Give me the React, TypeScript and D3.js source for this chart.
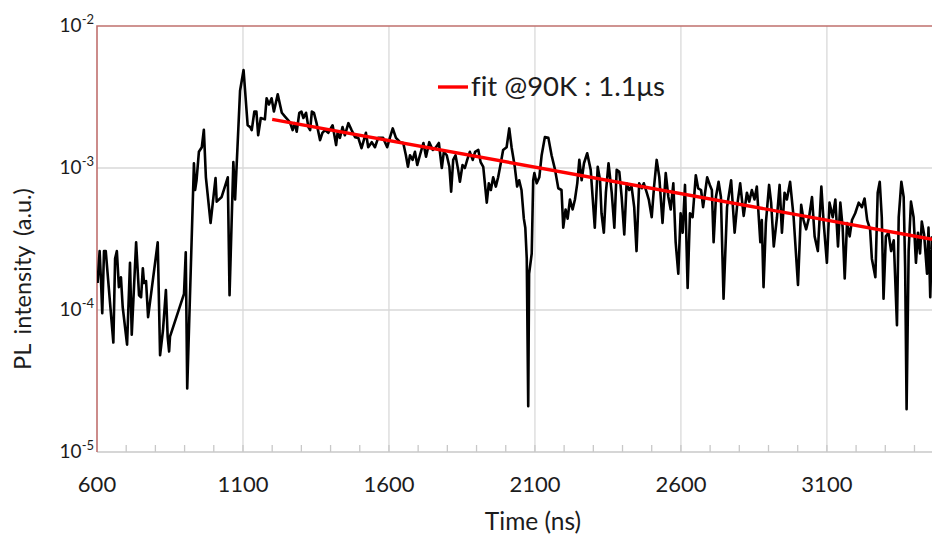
import React, { useEffect, useRef } from 'react';
import * as d3 from 'd3';

// measured PL decay trace (time in ns, intensity in a.u.)
const timeNs = [
  602, 609, 614, 618, 624, 630, 645, 656, 662, 668, 675, 682, 688, 703, 713, 719, 734, 744, 751, 757,
  761, 768, 775, 808, 816, 826, 836, 842, 847, 850, 898, 904, 909, 932, 936, 941, 949, 959, 966, 973,
  989, 1006, 1010, 1027, 1048, 1054, 1067, 1073, 1090, 1102, 1116, 1125, 1130, 1139, 1146, 1152, 1161, 1175, 1181, 1189,
  1198, 1206, 1219, 1233, 1244,
  1261, 1270, 1277, 1284, 1293, 1300, 1307, 1316, 1324, 1330, 1336, 1343, 1352, 1364, 1372, 1381, 1392, 1407, 1419, 1424,
  1432, 1441, 1449, 1461, 1472, 1484, 1495, 1506, 1512, 1521, 1529, 1541, 1552, 1563, 1580, 1594, 1603, 1613, 1624, 1638,
  1649, 1658, 1665, 1672, 1681, 1689, 1697, 1706, 1718, 1727, 1738, 1750, 1761, 1771, 1781, 1788, 1798, 1807, 1813, 1820,
  1828, 1837, 1843, 1852, 1860, 1868, 1877, 1887, 1895, 1906, 1914, 1923, 1935, 1942, 1949, 1957, 1966, 1974, 1983, 1991,
  2003, 2012,
  2020, 2031, 2039, 2046, 2054, 2062, 2067, 2072, 2077, 2080, 2089, 2094, 2098, 2106, 2115, 2123, 2134, 2146, 2157, 2169,
  2180, 2191, 2197, 2205, 2212, 2220, 2229, 2237, 2245, 2252, 2260, 2268, 2279, 2291, 2305, 2315, 2323, 2328, 2336, 2343,
  2352, 2363, 2372, 2380, 2389, 2397, 2406, 2414, 2423, 2431, 2440, 2448, 2457, 2466, 2473, 2483, 2490, 2500, 2508, 2517,
  2526, 2537, 2548, 2557, 2565, 2574, 2582, 2591, 2599, 2606, 2614, 2623, 2631, 2640, 2651, 2659, 2669, 2676, 2690, 2699,
  2706, 2712, 2720, 2729, 2737, 2746, 2758, 2772, 2784, 2792, 2803, 2815, 2826, 2834, 2843, 2852, 2860, 2872, 2877, 2883,
  2891, 2902, 2909, 2918, 2929, 2938, 2946, 2955, 2963, 2974, 2986, 3001, 3012, 3020, 3029, 3039, 3049, 3058, 3069, 3081,
  3089, 3100, 3109, 3120, 3129, 3138, 3146, 3154, 3161, 3169, 3178, 3186, 3197, 3209, 3220, 3229, 3238, 3248, 3254, 3266,
  3274, 3281, 3288, 3294, 3302, 3311, 3320, 3329, 3340, 3346, 3355, 3363, 3368, 3373, 3380, 3388, 3397, 3405, 3412, 3419,
  3425, 3433, 3443, 3448, 3454, 3460,
];

const intensity = [
  1.55e-4, 2.6e-4, 1.55e-4, 0.95e-4, 2.6e-4, 2.6e-4, 1.1e-4, 5.9e-5, 2.3e-4, 2.6e-4, 1.45e-4, 1.7e-4, 1.05e-4, 5.7e-5, 2.15e-4, 6.7e-5, 3e-4, 1.27e-4, 1.23e-4, 1.97e-4,
  1.55e-4, 1.6e-4, 8.9e-5, 3e-4, 4.8e-5, 7.2e-5, 1.38e-4, 6.5e-5, 5.1e-5, 6.5e-5, 1.3e-4, 2.55e-4, 2.8e-5, 1.08e-3, 7e-4, 8.2e-4, 1.3e-3, 1.4e-3, 1.86e-3, 8.6e-4,
  4.1e-4, 8.5e-4, 5.8e-4, 6.25e-4, 8.6e-4, 1.27e-4, 1.1e-3, 6e-4, 3.5e-3, 4.9e-3, 2e-3, 1.94e-3, 1.85e-3, 2.5e-3, 2.5e-3, 1.7e-3, 2.25e-3, 2.2e-3, 3.1e-3, 2.8e-3,
  3.1e-3, 2.5e-3, 3.3e-3, 2.45e-3, 2.3e-3,
  2.1e-3, 1.85e-3, 2.07e-3, 1.8e-3, 2.45e-3, 2.5e-3, 2.25e-3, 2.45e-3, 1.94e-3, 1.85e-3, 2.5e-3, 2.45e-3, 2.07e-3, 1.57e-3, 1.77e-3, 1.85e-3, 1.77e-3, 2e-3, 1.45e-3, 1.77e-3,
  1.63e-3, 1.94e-3, 1.7e-3, 2.07e-3, 1.85e-3, 1.65e-3, 1.63e-3, 1.38e-3, 1.52e-3, 1.77e-3, 1.4e-3, 1.52e-3, 1.4e-3, 1.63e-3, 1.63e-3, 1.4e-3, 1.63e-3, 1.9e-3, 1.63e-3, 1.52e-3,
  1.5e-3, 1.23e-3, 1.02e-3, 1.23e-3, 1.14e-3, 1.3e-3, 1.05e-3, 1.23e-3, 1.5e-3, 1.2e-3, 1.52e-3, 1.34e-3, 1.4e-3, 1.5e-3, 1e-3, 1.3e-3, 1.23e-3, 1.02e-3, 6.8e-4, 1.14e-3,
  1.23e-3, 9.7e-4, 8e-4, 1.05e-3, 1e-3, 1.14e-3, 1.3e-3, 1.14e-3, 1.3e-3, 1.34e-3, 1.1e-3, 1.02e-3, 5.7e-4, 7.8e-4, 7e-4, 8.6e-4, 7.4e-4, 8.6e-4, 1.08e-3, 1.34e-3,
  1.4e-3, 1.9e-3,
  1.4e-3, 1.02e-3, 7.4e-4, 8.2e-4, 7e-4, 4.4e-4, 3.8e-4, 2.3e-4, 2.1e-5, 1.8e-4, 2.5e-4, 8.2e-4, 9.2e-4, 7.8e-4, 8.6e-4, 1.23e-3, 1.65e-3, 1.63e-3, 1.23e-3, 9.7e-4,
  7.2e-4, 7e-4, 3.8e-4, 5.1e-4, 4.4e-4, 6e-4, 5.1e-4, 6e-4, 7.8e-4, 1.14e-3, 8.2e-4, 1.08e-3, 1.27e-3, 9.7e-4, 3.8e-4, 1.02e-3, 8.2e-4, 4.8e-4, 3.5e-4, 6.7e-4,
  1.08e-3, 6.7e-4, 3.8e-4, 9.7e-4, 9.4e-4, 6.25e-4, 3.4e-4, 7.8e-4, 7e-4, 7.4e-4, 5.3e-4, 2.6e-4, 7.8e-4, 7.2e-4, 7.8e-4, 6.7e-4, 6e-4, 4.5e-4, 7.4e-4, 1.14e-3,
  8.6e-4, 4.1e-4, 9.2e-4, 6.25e-4, 5.1e-4, 7.8e-4, 3e-4, 1.8e-4, 4.8e-4, 3.5e-4, 7.6e-4, 1.43e-4, 4.8e-4, 4.5e-4, 8.9e-4, 7.2e-4, 7e-4, 5.3e-4, 8.6e-4, 7.6e-4,
  7e-4, 3e-4, 6.25e-4, 8e-4, 6.25e-4, 1.2e-4, 5.3e-4, 8.2e-4, 3.5e-4, 5.3e-4, 7.8e-4, 4.6e-4, 6.7e-4, 5.8e-4, 7e-4, 6e-4, 7.4e-4, 3e-4, 4.3e-4, 1.45e-4,
  4.1e-4, 7.6e-4, 5.7e-4, 2.8e-4, 4.5e-4, 7.6e-4, 3.5e-4, 6.7e-4, 6e-4, 8e-4, 4.5e-4, 1.5e-4, 5.5e-4, 4.3e-4, 3.7e-4, 4.5e-4, 6.25e-4, 3.3e-4, 2.6e-4, 7.4e-4,
  4.1e-4, 2.15e-4, 5.7e-4, 4.5e-4, 6e-4, 2.8e-4, 5.7e-4, 3.8e-4, 1.67e-4, 4.1e-4, 3.3e-4, 4.3e-4, 4.8e-4, 5.7e-4, 5.3e-4, 6.1e-4, 4.3e-4, 3.7e-4, 2.3e-4, 1.7e-4,
  6.7e-4, 8e-4, 4.5e-4, 1.2e-4, 3.3e-4, 3.5e-4, 2.6e-4, 3.1e-4, 7.8e-5, 4.5e-4, 8e-4, 6.25e-4, 2e-4, 2e-5, 2.6e-4, 5.8e-4, 4.5e-4, 2.15e-4, 3.5e-4, 2.5e-4,
  4.2e-4, 3.4e-4, 1.8e-4, 3.8e-4, 1.23e-4, 3.3e-4,
];

// single-exponential fit, straight on the log axis
const fitTime = [1200, 3460];
const fitIntensity = [2.2e-3, 3.15e-4];

const xTickValues = [600, 1100, 1600, 2100, 2600, 3100];
const yTickExponents = [-2, -3, -4, -5];
const legendLabel = 'fit @90K : 1.1μs';

const FONT = "Lato, 'Open Sans', sans-serif";

const PLDecayChart = ({ width = 932, height = 538 }) => {
  const svgRef = useRef<SVGSVGElement>(null);

  useEffect(() => {
    const svg = d3.select(svgRef.current);
    svg.selectAll('*').remove();

    const margin = { top: 26, right: 0, bottom: 86, left: 97 };
    const x = d3.scaleLinear().domain([600, 3460]).range([margin.left, width - margin.right]);
    const y = d3.scaleLog().domain([1e-5, 1e-2]).range([height - margin.bottom, margin.top]);
    const [x0, x1] = x.range();
    const [yb, yt] = y.range();

    svg.append('defs').append('clipPath').attr('id', 'plot-clip')
      .append('rect').attr('x', x0).attr('y', yt).attr('width', x1 - x0).attr('height', yb - yt);

    // grid lines
    const grid = svg.append('g').attr('stroke', '#d9d9d9').attr('stroke-width', 1.3);
    grid.selectAll('line.v')
      .data(xTickValues.slice(1))
      .enter().append('line')
      .attr('x1', d => x(d)).attr('x2', d => x(d))
      .attr('y1', yt).attr('y2', yb);
    grid.selectAll('line.h')
      .data(yTickExponents.slice(1, -1))
      .enter().append('line')
      .attr('x1', x0).attr('x2', x1)
      .attr('y1', d => y(Math.pow(10, d))).attr('y2', d => y(Math.pow(10, d)));

    // bottom axis with inside minor ticks every 100 ns
    const bottom = svg.append('g').attr('stroke', '#c8c8c8').attr('stroke-width', 1.3);
    bottom.append('line').attr('x1', x0).attr('x2', x1).attr('y1', yb).attr('y2', yb);
    bottom.selectAll('line.tick')
      .data(d3.range(700, 3460, 100))
      .enter().append('line')
      .attr('x1', d => x(d)).attr('x2', d => x(d))
      .attr('y1', yb - 7).attr('y2', yb);

    // reddish frame (top + left)
    svg.append('path')
      .attr('d', `M${x0},${yb}V${yt}H${x1}`)
      .attr('fill', 'none')
      .attr('stroke', '#c0706e')
      .attr('stroke-width', 1.6);

    // x tick labels
    svg.append('g').selectAll('text')
      .data(xTickValues)
      .enter().append('text')
      .attr('x', d => x(d))
      .attr('y', 492)
      .attr('text-anchor', 'middle')
      .style('font-family', FONT)
      .style('font-size', '22px')
      .style('fill', '#1c1c1c')
      .text(d => d);

    // y tick labels 10^n
    const yLabels = svg.append('g').selectAll('text')
      .data(yTickExponents)
      .enter().append('text')
      .attr('x', 94)
      .attr('y', d => y(Math.pow(10, d)) + 6)
      .attr('text-anchor', 'end')
      .style('font-family', FONT)
      .style('font-size', '19px')
      .style('fill', '#1c1c1c');
    yLabels.append('tspan').text('10');
    yLabels.append('tspan')
      .attr('dy', -8)
      .style('font-size', '13px')
      .text(d => `-${-d}`);

    // axis titles
    svg.append('text')
      .attr('x', 533)
      .attr('y', 530)
      .attr('text-anchor', 'middle')
      .style('font-family', FONT)
      .style('font-size', '24.5px')
      .style('fill', '#1c1c1c')
      .text('Time (ns)');

    svg.append('text')
      .attr('transform', 'translate(31,279) rotate(-90)')
      .attr('text-anchor', 'middle')
      .style('font-family', FONT)
      .style('font-size', '23.5px')
      .style('word-spacing', '4px')
      .style('fill', '#1c1c1c')
      .text('PL intensity (a.u.)');

    const plot = svg.append('g').attr('clip-path', 'url(#plot-clip)');

    // data trace
    const line = d3.line<number>()
      .x((_, i) => x(timeNs[i]))
      .y(d => y(d));
    plot.append('path')
      .datum(intensity)
      .attr('d', line)
      .attr('fill', 'none')
      .attr('stroke', '#000')
      .attr('stroke-width', 2.6)
      .attr('stroke-linejoin', 'round');

    // fit
    const fitLine = d3.line<number>()
      .x((_, i) => x(fitTime[i]))
      .y(d => y(d));
    plot.append('path')
      .datum(fitIntensity)
      .attr('d', fitLine)
      .attr('fill', 'none')
      .attr('stroke', '#ff0000')
      .attr('stroke-width', 3.4);

    // legend
    svg.append('line')
      .attr('x1', 438).attr('x2', 468)
      .attr('y1', 87).attr('y2', 87)
      .attr('stroke', '#ff0000')
      .attr('stroke-width', 3.4);
    svg.append('text')
      .attr('x', 471)
      .attr('y', 96)
      .style('font-family', FONT)
      .style('font-size', '27.5px')
      .style('font-variant-ligatures', 'none')
      .style('font-feature-settings', '"liga" 0')
      .style('fill', '#1c1c1c')
      .text(legendLabel);
  }, [width, height]);

  return (
    <svg
      ref={svgRef}
      width={width}
      height={height}
      style={{ position: 'absolute', left: 0, top: 0, background: '#fff' }}
    />
  );
};

export default function App() {
  return <PLDecayChart />;
}
